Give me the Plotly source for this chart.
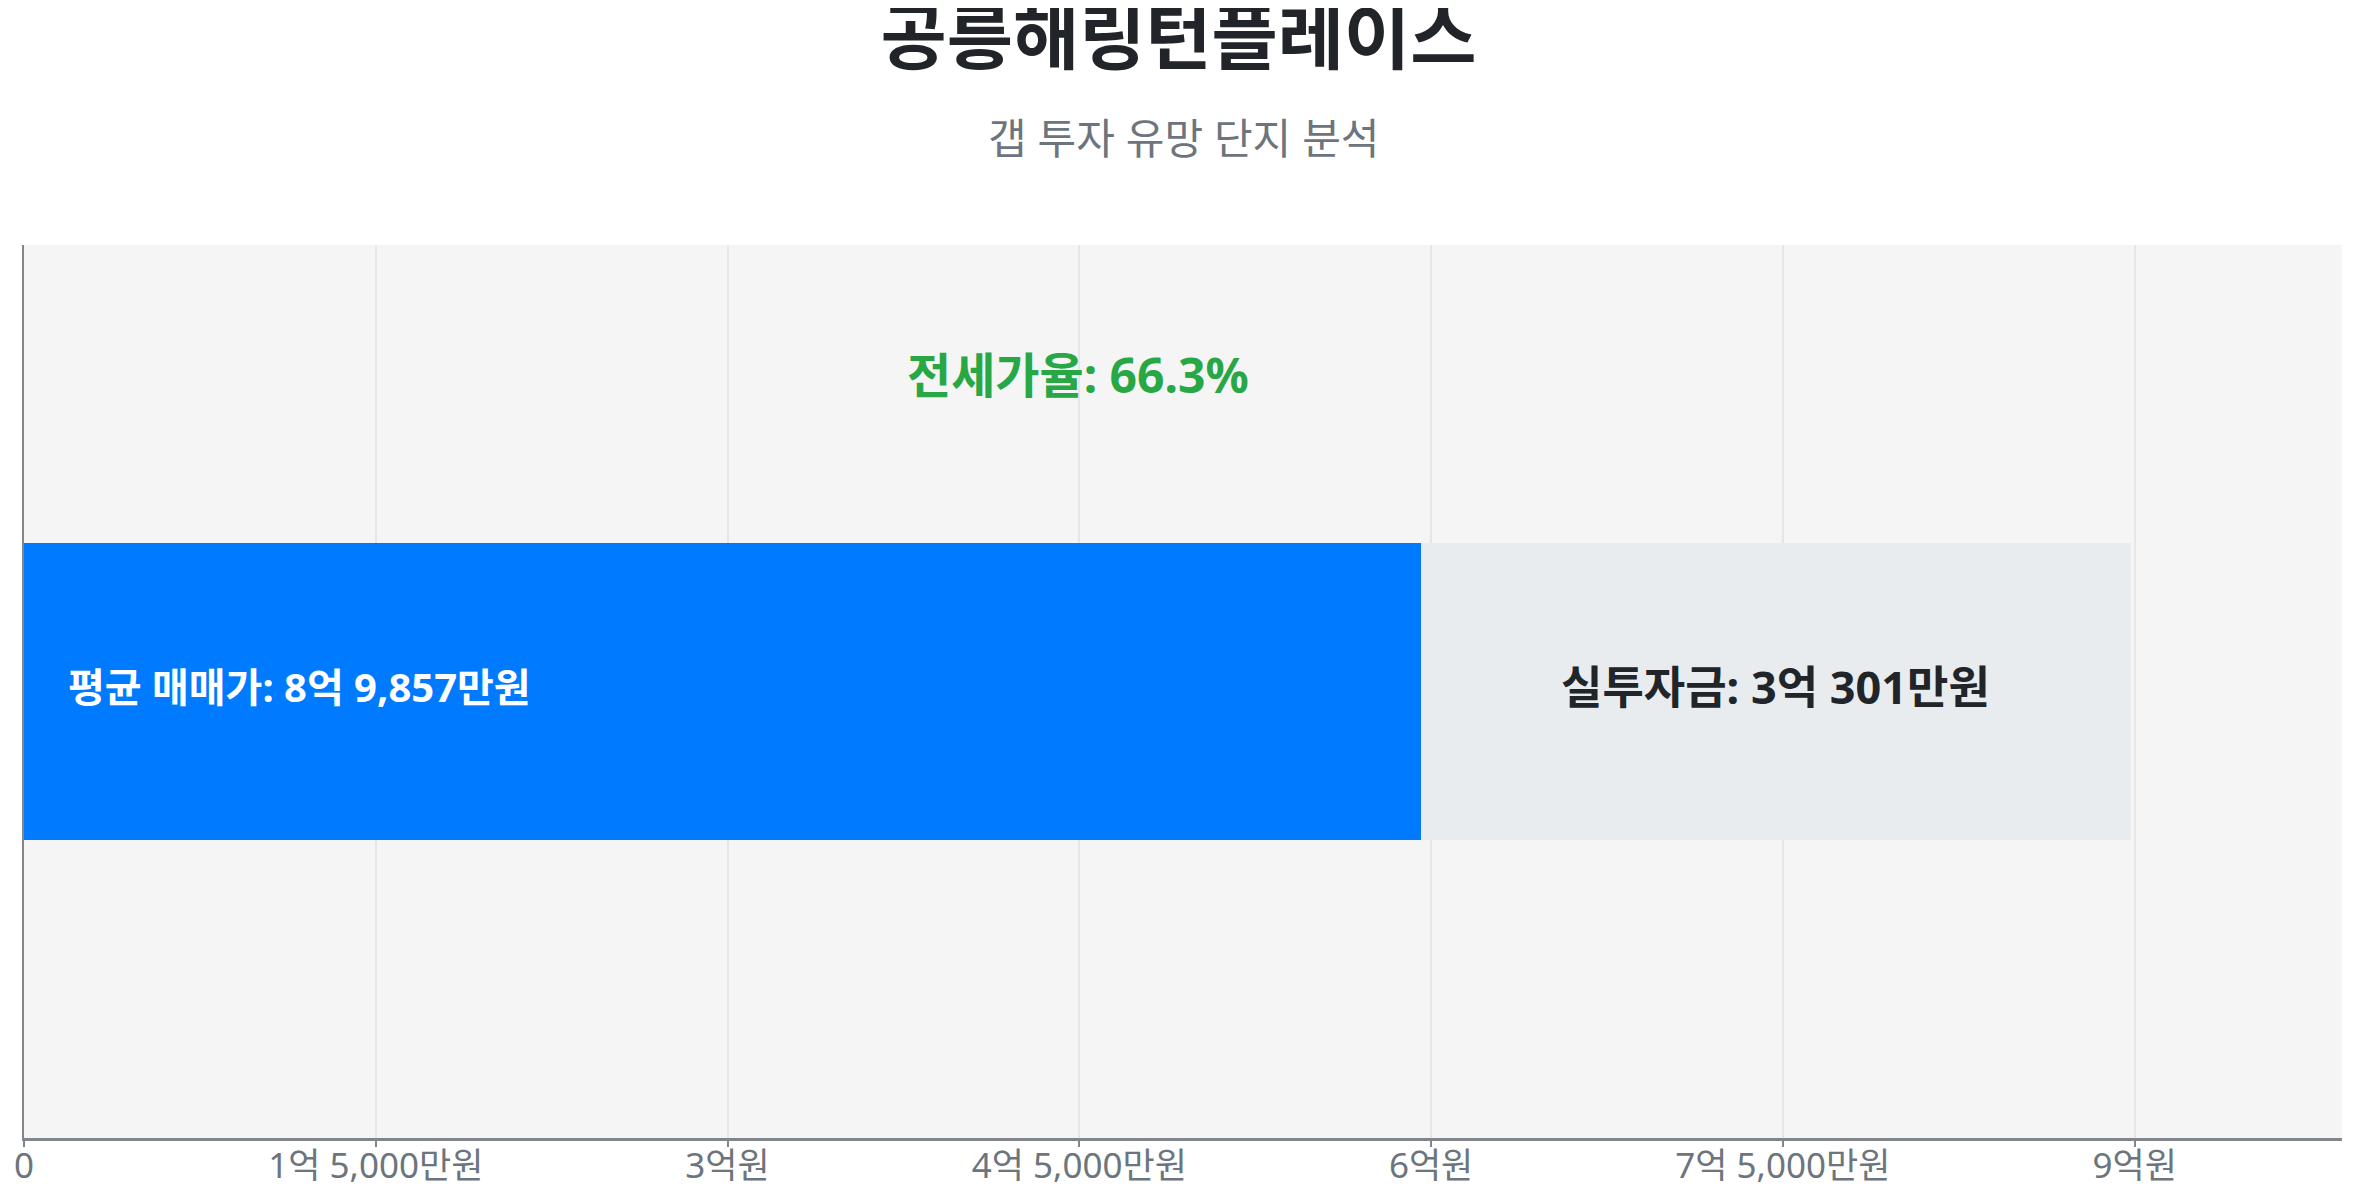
import plotly.graph_objects as go

# values in 만원
complex_name = "공릉해링턴플레이스"
subtitle = "갭 투자 유망 단지 분석"
sale_price = 89857
jeonse_price = 59556
invest_amount = 30301
jeonse_ratio = 66.3

tick_vals = [0, 15000, 30000, 45000, 60000, 75000, 90000]
tick_text = ["0", "1억 5,000만원", "3억원", "4억 5,000만원", "6억원", "7억 5,000만원", "9억원"]

FONT = "Noto Sans, Noto Sans CJK KR, sans-serif"

# the page body keeps its default 8px margin, so the figure is sized to fit inside it
W, H = 2341, 1184

fig = go.Figure()

# blue part: jeonse (sale price minus real investment)
fig.add_trace(
    go.Bar(
        y=[0],
        x=[jeonse_price],
        orientation="h",
        marker=dict(color="#007bff", line_width=0),
        hoverinfo="skip",
        showlegend=False,
    )
)
# grey part: real investment money
fig.add_trace(
    go.Bar(
        y=[0],
        x=[invest_amount],
        orientation="h",
        marker=dict(color="#e9ecef", line_width=0),
        hoverinfo="skip",
        showlegend=False,
    )
)

# labels on the bar (nudged up a bit to sit like the original)
fig.add_annotation(
    x=0, y=0, xref="x", yref="y",
    text="<b>평균 매매가: 8억 9,857만원</b>",
    xanchor="left", xshift=42, yshift=5, showarrow=False,
    font=dict(family=FONT, size=40, color="white"),
)
fig.add_annotation(
    x=jeonse_price + invest_amount / 2, y=0, xref="x", yref="y",
    text=f"<b>실투자금: 3억 {invest_amount - 30000:,}만원</b>",
    yshift=5, showarrow=False,
    font=dict(family=FONT, size=45, color="#212529"),
)
fig.add_annotation(
    x=sale_price / 2, y=0.355, xref="x", yref="y",
    text=f"<b>전세가율: {jeonse_ratio}%</b>",
    showarrow=False,
    font=dict(family=FONT, size=48, color="#28a745"),
)
fig.add_annotation(
    x=0.5, y=1.12, xref="paper", yref="paper",
    yanchor="middle",
    text=subtitle, showarrow=False,
    font=dict(family=FONT, size=42, color="#6c757d"),
)

fig.update_layout(
    barmode="stack",
    bargap=0.667,
    width=W,
    height=H,
    paper_bgcolor="white",
    plot_bgcolor="#f5f5f5",
    margin=dict(l=16, r=7, t=237, b=54),
    title=dict(
        text=f"<b>{complex_name}</b>",
        x=0.5, xref="container", xanchor="center",
        y=1 - 30 / H, yref="container", yanchor="middle",
        font=dict(family=FONT, size=72, color="#212529"),
    ),
    font=dict(family=FONT),
)

fig.update_xaxes(
    automargin=False,
    range=[0, sale_price * 1.1],
    tickvals=tick_vals,
    ticktext=tick_text,
    tickfont=dict(family=FONT, size=35, color="#6c757d"),
    ticklabelstandoff=-11,
    showgrid=True,
    gridcolor="#e6e6e6",
    gridwidth=2,
    showline=True,
    linecolor="#80868c",
    linewidth=3,
    ticks="outside",
    ticklen=6,
    tickwidth=2,
    tickcolor="#80868c",
    zeroline=False,
)
fig.update_yaxes(
    automargin=False,
    range=[-0.5, 0.5],
    showticklabels=False,
    showgrid=False,
    zeroline=False,
    showline=True,
    linecolor="#80868c",
    linewidth=2,
)

fig.write_html("out.html")
